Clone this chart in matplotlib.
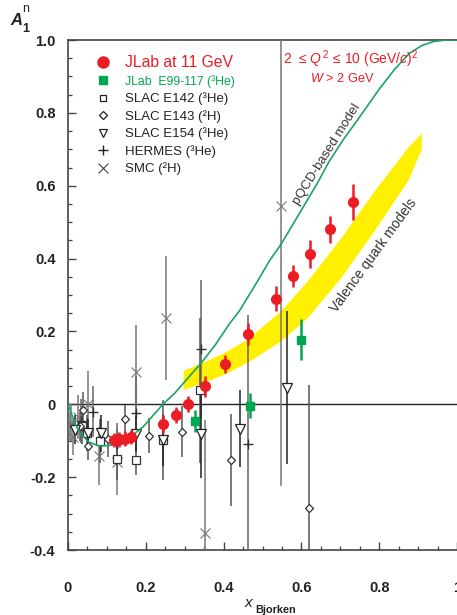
import matplotlib
matplotlib.use("Agg")
import matplotlib.pyplot as plt
from matplotlib.lines import Line2D
import numpy as np

plt.rcParams['font.family'] = ['Liberation Sans', 'DejaVu Sans']
plt.rcParams['mathtext.fontset'] = 'custom'
plt.rcParams['mathtext.rm'] = 'Liberation Sans'
plt.rcParams['mathtext.it'] = 'Liberation Sans:italic'
plt.rcParams['mathtext.bf'] = 'Liberation Sans:bold'

# ---------------- data ----------------
# JLab at 11 GeV (projected)
jlab11_x = [0.118, 0.132, 0.147, 0.162, 0.244, 0.277, 0.308, 0.353, 0.403, 0.464, 0.535, 0.579, 0.621, 0.673, 0.732]
jlab11_y = [-0.098, -0.096, -0.094, -0.090, -0.055, -0.030, 0.000, 0.049, 0.111, 0.192, 0.290, 0.352, 0.413, 0.481, 0.556]
jlab11_e = [0.020, 0.020, 0.020, 0.020, 0.025, 0.022, 0.022, 0.028, 0.025, 0.030, 0.034, 0.029, 0.038, 0.037, 0.049]

# JLab E99-117 (3He)
e99_x = [0.327, 0.467, 0.598]
e99_y = [-0.047, -0.004, 0.177]
e99_e = [0.030, 0.034, 0.056]

# SLAC E142 (3He)
e142_x = [0.036, 0.049, 0.083, 0.126, 0.174, 0.243, 0.340]
e142_y = [-0.060, -0.079, -0.100, -0.149, -0.153, -0.097, 0.038]
e142_e = [0.050, 0.050, 0.060, 0.060, 0.040, 0.110, 0.200]

# SLAC E143 (2H)
e143_x = [0.031, 0.038, 0.052, 0.104, 0.146, 0.209, 0.294, 0.420, 0.620]
e143_y = [-0.060, -0.016, -0.114, -0.096, -0.041, -0.086, -0.075, -0.153, -0.286]
e143_e = [0.040, 0.050, 0.040, 0.050, 0.040, 0.048, 0.070, 0.125, 0.340]

# SLAC E154 (3He)
e154_x = [0.017, 0.052, 0.084, 0.174, 0.243, 0.343, 0.441, 0.562]
e154_y = [-0.070, -0.080, -0.080, -0.082, -0.099, -0.082, -0.067, 0.046]
e154_e = [0.040, 0.040, 0.050, 0.050, 0.070, 0.120, 0.105, 0.210]

# HERMES (3He)
herm_x = [0.033, 0.064, 0.126, 0.174, 0.341, 0.464]
herm_y = [-0.045, -0.020, -0.110, -0.023, 0.151, -0.110]
herm_e = [0.060, 0.070, 0.060, 0.100, 0.190, 0.355]

# SMC (2H)
smc_x = [0.005, 0.008, 0.014, 0.025, 0.052, 0.080, 0.126, 0.174, 0.251, 0.351, 0.548]
smc_y = [-0.060, -0.050, -0.090, -0.035, 0.002, -0.142, -0.158, 0.089, 0.236, -0.353, 0.545]
smc_e = [0.040, 0.050, 0.050, 0.060, 0.090, 0.080, 0.090, 0.130, 0.170, 0.310, 0.770]

# pQCD-based model curve
pqcd_x = [0.0, 0.020, 0.036, 0.053, 0.080, 0.113, 0.155, 0.193, 0.244, 0.274, 0.300, 0.343,
          0.380, 0.415, 0.441, 0.480, 0.518, 0.548, 0.600, 0.640, 0.672, 0.710, 0.744,
          0.800, 0.840, 0.877, 0.910, 0.940, 0.971, 1.0]
pqcd_y = [0.0, -0.058, -0.085, -0.103, -0.115, -0.112, -0.094, -0.062, 0.000, 0.030, 0.062, 0.114,
          0.165, 0.221, 0.257, 0.325, 0.394, 0.440, 0.533, 0.605, 0.668, 0.730, 0.780,
          0.865, 0.920, 0.963, 0.985, 0.996, 1.0, 1.0]

# Valence quark models band
band_x = [0.296, 0.350, 0.403, 0.462, 0.548, 0.616, 0.702, 0.787, 0.873, 0.908]
band_hi = [0.093, 0.117, 0.143, 0.180, 0.258, 0.340, 0.458, 0.586, 0.705, 0.745]
band_lo = [0.040, 0.061, 0.084, 0.116, 0.175, 0.239, 0.349, 0.477, 0.614, 0.700]

xticks = [0, 0.2, 0.4, 0.6, 0.8, 1.0]
xticklabels = ['0', '0.2', '0.4', '0.6', '0.8', '1']
yticks = [-0.4, -0.2, 0, 0.2, 0.4, 0.6, 0.8, 1.0]
yticklabels = ['-0.4', '-0.2', '0', '0.2', '0.4', '0.6', '0.8', '1.0']

RED = '#ec1c24'
GREEN = '#00a651'
CURVE = '#1aa463'
YELLOW = '#fff000'

# ---------------- figure ----------------
W, H = 457, 615
fig = plt.figure(figsize=(W / 100, H / 100), dpi=100)
ax = fig.add_axes([68 / W, 65 / H, 389 / W, 510 / H])
ax.set_xlim(0, 1)
ax.set_ylim(-0.4, 1.0)

ax.axhline(0, color='#222222', lw=1.0, zorder=1)

ax.fill_between(band_x, band_lo, band_hi, color=YELLOW, lw=0, zorder=2)
ax.plot(pqcd_x, pqcd_y, color=CURVE, lw=1.2, zorder=4)

common = dict(capsize=0, elinewidth=1.1, linestyle='none', zorder=3)
ax.errorbar(smc_x, smc_y, yerr=smc_e, fmt='x', color='#777777', ms=7, mew=0.8, **common)
ax.errorbar(herm_x, herm_y, yerr=herm_e, fmt='+', color='#333333', ecolor='#666666', ms=6.5, mew=1.0, **common)
ax.errorbar(e142_x, e142_y, yerr=e142_e, fmt='s', color='#333333', ecolor='#555555', mfc='white', ms=5.5, mew=0.9, **common)
ax.errorbar(e143_x, e143_y, yerr=e143_e, fmt='D', color='#333333', ecolor='#555555', mfc='white', ms=4.2, mew=0.9, **common)
ax.errorbar(e154_x, e154_y, yerr=e154_e, fmt='v', color='#222222', ecolor='#222222', mfc='white', ms=6.5, mew=0.9, **common)

ax.errorbar(e99_x, e99_y, yerr=e99_e, fmt='s', color=GREEN, ms=6, capsize=0, elinewidth=1.8,
            linestyle='none', zorder=5)
ax.errorbar(jlab11_x, jlab11_y, yerr=jlab11_e, fmt='o', color=RED, ms=7, capsize=0, elinewidth=1.8,
            linestyle='none', zorder=6)

# axes styling
for s in ['left', 'bottom', 'top']:
    ax.spines[s].set_color('#444444')
    ax.spines[s].set_linewidth(1.2)
ax.spines['right'].set_visible(False)

ax.set_xticks(xticks)
ax.set_xticklabels(xticklabels)
ax.set_yticks(yticks)
ax.set_yticklabels(yticklabels)
ax.set_xticks(np.arange(0, 1.001, 0.05), minor=True)
ax.set_yticks(np.arange(-0.4, 1.001, 0.05), minor=True)
ax.tick_params(which='major', direction='in', length=5.5, width=1.0, color='#444444', top=False, right=False)
ax.tick_params(which='minor', direction='in', length=2.8, width=0.9, color='#444444', top=False, right=False)
ax.tick_params(axis='x', which='major', pad=22)
ax.tick_params(axis='y', which='major', pad=9)
for lab in ax.get_xticklabels() + ax.get_yticklabels():
    lab.set_fontweight('bold')
    lab.set_fontsize(10.5)
    lab.set_color('#222222')

# legend
handles = [
    Line2D([], [], marker='o', color=RED, ls='none', ms=8),
    Line2D([], [], marker='s', color=GREEN, ls='none', ms=5.5),
    Line2D([], [], marker='s', color='#222222', mfc='white', ls='none', ms=5, mew=0.9),
    Line2D([], [], marker='D', color='#222222', mfc='white', ls='none', ms=4, mew=0.9),
    Line2D([], [], marker='v', color='#222222', mfc='white', ls='none', ms=6, mew=0.9),
    Line2D([], [], marker='+', color='#222222', ls='none', ms=7, mew=1.0),
    Line2D([], [], marker='x', color='#444444', ls='none', ms=7, mew=0.8),
]
labels = ['JLab at 11 GeV', 'JLab  E99-117 (³He)', 'SLAC E142 (³He)', 'SLAC E143 (²H)',
          'SLAC E154 (³He)', 'HERMES (³He)', 'SMC (²H)']
leg = ax.legend(handles, labels, loc='upper left', bbox_to_anchor=(0.06, 0.981), borderaxespad=0,
                frameon=False, fontsize=9.5, handlelength=1.0, handletextpad=1.15, labelspacing=0.36,
                borderpad=0.4)
texts = leg.get_texts()
texts[0].set_color(RED)
texts[0].set_fontsize(11.3)
texts[1].set_color(GREEN)
texts[1].set_fontsize(8.8)
for t in texts[2:]:
    t.set_color('#222222')

# annotations
fig.text(283 / W, 1 - 64 / H, r'2  ≤ $Q^{\,2}$ ≤ 10 (GeV/$c$)$^{2}$', color=RED, fontsize=10,
         ha='left', va='baseline')
fig.text(310 / W, 1 - 82 / H, r'$W$ > 2 GeV', color=RED, fontsize=9.2, ha='left', va='baseline')

ax.text(0.665, 0.685, 'pQCD-based model', rotation=58, rotation_mode='anchor', ha='center', va='center',
        fontsize=9.5, color='#333333', zorder=7)
ax.text(0.785, 0.408, 'Valence quark models', rotation=54, rotation_mode='anchor', ha='center', va='center',
        fontsize=10, color='#333333', zorder=7)

# axis titles
fig.text(10 / W, 1 - 25 / H, 'A', fontsize=12, fontweight='bold', style='italic', color='#222222', va='baseline')
fig.text(22 / W, 1 - 12 / H, 'n', fontsize=9, color='#222222', va='baseline')
fig.text(22.5 / W, 1 - 32.3 / H, '1', fontsize=9, fontweight='bold', color='#222222', va='baseline')

fig.text(245 / W, 1 - 607 / H, 'x', fontsize=11, style='italic', color='#222222', va='baseline')
fig.text(255 / W, 1 - 613 / H, 'Bjorken', fontsize=7.8, fontweight='bold', color='#222222', va='baseline')

fig.savefig('out.png', dpi=100)
